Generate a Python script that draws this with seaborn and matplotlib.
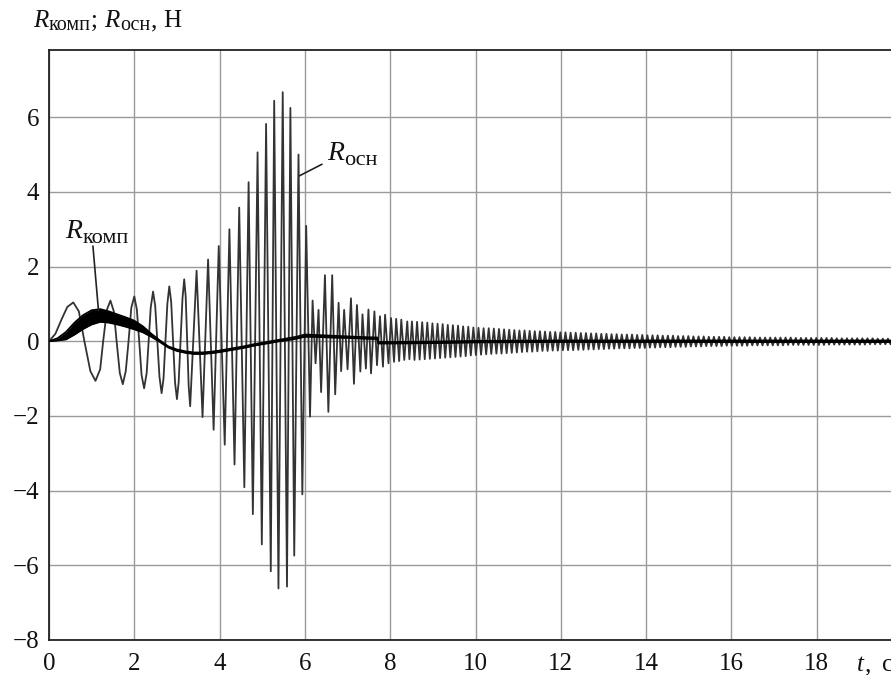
import numpy as np
import pandas as pd
import seaborn as sns
import matplotlib.pyplot as plt
from matplotlib.transforms import IdentityTransform

# ---------------- data ----------------
# R_osn: points along the oscillating curve (extrema plus some shape points)
osn_t = [0.00, 0.15, 0.30, 0.43, 0.57, 0.70, 0.83, 0.97, 1.09, 1.20, 1.27, 1.36, 1.44,
         1.52, 1.585, 1.66, 1.73, 1.80, 1.865, 1.93, 2.00, 2.06, 2.115, 2.17, 2.23,
         2.29, 2.335, 2.385, 2.44, 2.49, 2.54, 2.59, 2.64, 2.685, 2.73, 2.775, 2.82,
         2.865, 2.91, 2.955, 3.00, 3.04, 3.085, 3.13, 3.17, 3.205, 3.24, 3.275, 3.31,
         3.46, 3.60, 3.73, 3.86, 3.98, 4.12,
         4.23, 4.35, 4.46, 4.58, 4.68, 4.78, 4.89, 4.99, 5.09, 5.20, 5.28, 5.38,
         5.48, 5.58, 5.66, 5.75, 5.85, 5.94, 6.03, 6.12, 6.18, 6.25, 6.32, 6.38,
         6.47, 6.55, 6.64, 6.71, 6.79, 6.85, 6.92, 7.00, 7.08, 7.15, 7.22, 7.30,
         7.35, 7.43, 7.49, 7.55, 7.63, 7.69, 7.76, 7.83, 7.88, 7.96, 8.02, 8.09,
         8.14, 8.21, 8.26, 8.33, 8.40, 8.45,
         8.51, 8.57, 8.63, 8.69, 8.75, 8.81, 8.87, 8.93, 8.99, 9.05, 9.11, 9.17,
         9.23, 9.29, 9.35, 9.41, 9.47, 9.53, 9.59, 9.65, 9.71, 9.77, 9.83, 9.89,
         9.95, 10.01, 10.07, 10.13, 10.19, 10.25, 10.31, 10.37, 10.43, 10.49,
         10.55, 10.61, 10.67, 10.73, 10.79, 10.85, 10.91, 10.97, 11.03, 11.09,
         11.15, 11.21, 11.27, 11.33, 11.39, 11.45, 11.51, 11.57, 11.63, 11.69,
         11.75, 11.81, 11.87, 11.93, 11.99, 12.05,
         12.11, 12.17, 12.23, 12.29, 12.35, 12.41, 12.47, 12.53, 12.59, 12.65, 12.71,
         12.77, 12.83, 12.89, 12.95,
         13.01, 13.07, 13.13, 13.19, 13.25, 13.31, 13.37, 13.43, 13.49, 13.55, 13.61,
         13.67, 13.73, 13.79, 13.85, 13.91, 13.97,
         14.03, 14.09, 14.15, 14.21, 14.27, 14.33, 14.39, 14.45, 14.51, 14.57, 14.63,
         14.69, 14.75, 14.81, 14.87, 14.93, 14.99,
         15.05, 15.11, 15.17, 15.23, 15.29, 15.35, 15.41, 15.47, 15.53, 15.59, 15.65,
         15.71, 15.77, 15.83, 15.89, 15.95,
         16.01, 16.07, 16.13, 16.19, 16.25, 16.31, 16.37, 16.43, 16.49, 16.55, 16.61,
         16.67, 16.73, 16.79, 16.85, 16.91, 16.97,
         17.03, 17.09, 17.15, 17.21, 17.27, 17.33, 17.39, 17.45, 17.51, 17.57, 17.63,
         17.69, 17.75, 17.81, 17.87, 17.93, 17.99,
         18.05, 18.11, 18.17, 18.23, 18.29, 18.35, 18.41, 18.47, 18.53, 18.59, 18.65,
         18.71, 18.77, 18.83, 18.89, 18.95,
         19.01, 19.07, 19.13, 19.19, 19.25, 19.31, 19.37, 19.43, 19.49, 19.55, 19.61,
         19.67, 19.73, 19.79, 19.85, 19.91, 19.97,
         20.03]
osn_v = [0.00, 0.20, 0.60, 0.92, 1.04, 0.80, 0.00, -0.80, -1.06, -0.75, 0.00, 0.85, 1.09,
         0.80, 0.00, -0.85, -1.15, -0.80, 0.00, 0.90, 1.20, 0.85, 0.00, -0.90, -1.26,
         -0.85, 0.00, 0.90, 1.33, 0.95, 0.00, -0.95, -1.39, -1.00, 0.00, 1.00, 1.47,
         1.05, 0.00, -1.10, -1.55, -1.10, 0.00, 1.15, 1.66, 1.20, 0.00, -1.20, -1.74,
         1.89, -2.03, 2.19, -2.37, 2.55, -2.77,
         3.00, -3.30, 3.58, -3.91, 4.26, -4.63, 5.06, -5.44, 5.82, -6.16, 6.44, -6.62,
         6.67, -6.57, 6.25, -5.74, 5.00, -4.10, 3.09, -2.02, 1.09, -0.59, 0.84, -1.36,
         1.77, -1.89, 1.77, -1.42, 1.03, -0.80, 0.84, -0.75, 1.15, -1.14, 0.97, -0.81,
         0.72, -0.73, 0.85, -0.86, 0.80, -0.64, 0.67, -0.68, 0.71, -0.59, 0.62, -0.55,
         0.60, -0.53, 0.58, -0.50, 0.53, -0.48,
         0.53, -0.50, 0.52, -0.49, 0.51, -0.48, 0.50, -0.47, 0.48, -0.46, 0.47, -0.45,
         0.46, -0.44, 0.44, -0.43, 0.43, -0.42, 0.42, -0.41, 0.40, -0.40, 0.39, -0.38,
         0.37, -0.37, 0.36, -0.36, 0.35, -0.35, 0.35, -0.34, 0.34, -0.33,
         0.33, -0.33, 0.32, -0.32, 0.31, -0.31, 0.30, -0.30, 0.29, -0.29,
         0.29, -0.28, 0.28, -0.28, 0.27, -0.27, 0.27, -0.26, 0.26, -0.26,
         0.25, -0.25, 0.25, -0.25, 0.24, -0.24,
         0.24, -0.24, 0.23, -0.24, 0.23, -0.23, 0.22, -0.23, 0.22, -0.22, 0.21,
         -0.22, 0.21, -0.21, 0.20,
         -0.21, 0.20, -0.20, 0.19, -0.20, 0.19, -0.19, 0.18, -0.19, 0.18, -0.19,
         0.18, -0.18, 0.17, -0.18, 0.17, -0.18,
         0.16, -0.17, 0.16, -0.17, 0.16, -0.16, 0.15, -0.16, 0.15, -0.16, 0.15,
         -0.15, 0.14, -0.15, 0.14, -0.15, 0.14,
         -0.14, 0.13, -0.14, 0.13, -0.14, 0.13, -0.13, 0.12, -0.13, 0.12, -0.13,
         0.12, -0.13, 0.12, -0.12, 0.11,
         -0.12, 0.11, -0.12, 0.11, -0.12, 0.11, -0.12, 0.11, -0.11, 0.10, -0.11,
         0.10, -0.11, 0.10, -0.11, 0.10, -0.11,
         0.10, -0.11, 0.10, -0.11, 0.10, -0.10, 0.10, -0.10, 0.09, -0.10, 0.09,
         -0.10, 0.09, -0.10, 0.09, -0.10, 0.09,
         -0.10, 0.09, -0.10, 0.09, -0.09, 0.09, -0.09, 0.08, -0.09, 0.08, -0.09,
         0.08, -0.09, 0.08, -0.09, 0.08,
         -0.09, 0.08, -0.09, 0.08, -0.08, 0.08, -0.08, 0.07, -0.08, 0.07, -0.08,
         0.07, -0.08, 0.07, -0.08, 0.07, -0.08,
         0.07]

# R_komp: thick black band (upper / lower edge)
komp_t = [0.0, 0.2, 0.4, 0.6, 0.8, 1.0, 1.2, 1.4, 1.6, 1.8, 2.0, 2.2, 2.4, 2.6, 2.8,
          3.0, 3.2, 3.4, 3.6, 3.8, 4.0, 4.2, 4.4, 4.6, 4.8, 5.0, 5.2, 5.4, 5.6, 5.8,
          6.0, 6.2, 6.6, 7.0, 7.4, 7.70, 7.72, 8.0, 9.0, 10.0, 12.0, 20.0]
komp_hi = [0.00, 0.08, 0.25, 0.50, 0.70, 0.83, 0.86, 0.80, 0.72, 0.64, 0.55, 0.40, 0.20,
           0.02, -0.14, -0.22, -0.27, -0.30, -0.30, -0.28, -0.25, -0.21, -0.17, -0.13,
           -0.08, -0.04, 0.00, 0.04, 0.08, 0.12, 0.18, 0.17, 0.15, 0.13, 0.11, 0.10,
           -0.02, -0.02, -0.01, 0.01, 0.02, 0.02]
komp_lo = [0.00, 0.02, 0.05, 0.18, 0.33, 0.45, 0.52, 0.50, 0.45, 0.39, 0.32, 0.24, 0.12,
           -0.02, -0.17, -0.26, -0.31, -0.34, -0.34, -0.32, -0.29, -0.25, -0.21, -0.17,
           -0.12, -0.08, -0.04, 0.00, 0.03, 0.07, 0.12, 0.12, 0.10, 0.09, 0.07, 0.06,
           -0.06, -0.06, -0.05, -0.03, -0.02, -0.02]

x_ticks = [0, 2, 4, 6, 8, 10, 12, 14, 16, 18]
y_ticks = [-8, -6, -4, -2, 0, 2, 4, 6]

# ---------------- style ----------------
sns.set_theme(style="white")
plt.rcParams['font.family'] = ['Liberation Serif', 'DejaVu Serif']

TXT = "#111111"
W, H = 891, 675
fig = plt.figure(figsize=(W / 100, H / 100), dpi=100)
ax = fig.add_axes([49 / W, 35 / H, 853 / W, 590 / H])

osn_df = pd.DataFrame({"t": osn_t, "v": osn_v})
sns.lineplot(data=osn_df, x="t", y="v", sort=False, estimator=None,
             color="#333333", lw=1.3, ax=ax, zorder=3)

ax.fill_between(komp_t, komp_lo, komp_hi, color="black", lw=0, zorder=4)
komp_df = pd.DataFrame({"t": komp_t, "hi": komp_hi, "lo": komp_lo})
sns.lineplot(data=komp_df, x="t", y="hi", sort=False, estimator=None,
             color="black", lw=1.3, ax=ax, zorder=4)
sns.lineplot(data=komp_df, x="t", y="lo", sort=False, estimator=None,
             color="black", lw=1.3, ax=ax, zorder=4)

ax.set_xlim(0, 20)
ax.set_ylim(-8, 7.8)
ax.set_xticks(x_ticks)
ax.set_yticks(y_ticks)
ax.set_xticklabels([str(v) for v in x_ticks])
ax.set_yticklabels([str(v).replace('-', '\u2212') for v in y_ticks])
ax.grid(True, color="#9a9a9a", lw=1.0)
ax.set_axisbelow(True)
ax.tick_params(axis='both', length=0, labelsize=18, colors=TXT)
ax.tick_params(axis='x', pad=9)
ax.tick_params(axis='y', pad=7)
ax.set_xlabel("")
ax.set_ylabel("")
for s in ax.spines.values():
    s.set_color("#222222")
    s.set_linewidth(1.3)

# leader lines
ax.plot([5.87, 6.40], [4.43, 4.74], color="#222222", lw=1.2, zorder=5)
ax.plot([1.03, 1.16], [2.55, 0.82], color="#222222", lw=1.2, zorder=5)

# ---------------- rich text (R italic + lowered Cyrillic subscript) ----------------
renderer = fig.canvas.get_renderer()


def rich(x_px, y_px, pieces):
    """pieces: (text, size, style, drop_px, gap_before_px); y_px = baseline from top."""
    x = x_px
    for txt, size, style, drop, gap in pieces:
        x += gap
        t = fig.text(x, H - y_px - drop, txt, fontsize=size, style=style,
                     transform=IdentityTransform(), va='baseline', ha='left',
                     color=TXT)
        bb = t.get_window_extent(renderer=renderer)
        x = bb.x1


# title (axis label) top-left
rich(33, 27, [("R", 18, "italic", 0, 0), ("комп", 14.5, "normal", 3.5, 0.5),
              (";", 18, "normal", 0, 0.5), ("R", 18, "italic", 0, 6),
              ("осн", 14.5, "normal", 3.5, 0.5), (",", 18, "normal", 0, 0.5),
              ("Н", 18, "normal", 0, 6)])

# curve labels
x_osn, y_osn = ax.transData.transform((6.52, 0))[0], 160
rich(x_osn, y_osn, [("R", 20, "italic", 0, 0), ("осн", 16, "normal", 5, 0.5)])
x_komp = ax.transData.transform((0.38, 0))[0]
rich(x_komp, 238, [("R", 20, "italic", 0, 0), ("комп", 16, "normal", 5, 0.5)])

# x-axis unit, partially cut by the right edge as in the reference
rich(857, 671, [("t", 18, "italic", 0, 0), (",", 18, "normal", 0, 0.5),
                ("с", 18, "normal", 0, 11)])

fig.savefig("out.png", dpi=100)
